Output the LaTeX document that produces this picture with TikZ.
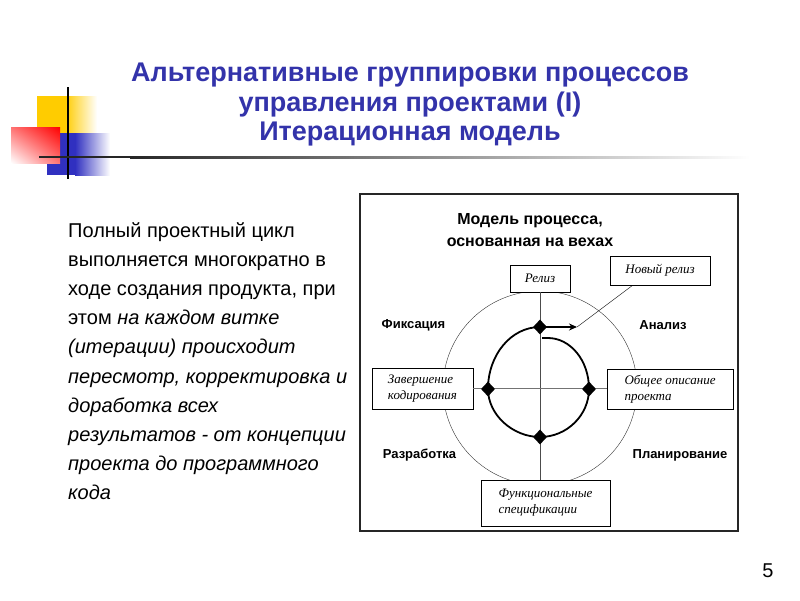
\documentclass[tikz,border=0pt]{standalone}
\usepackage{fontspec}
\setmainfont{Liberation Sans}
\newfontfamily\boxfont{Liberation Serif}
\usetikzlibrary{shapes,shapes.geometric,shadings,calc,arrows.meta}
\definecolor{ttlblue}{RGB}{51,51,170}
\definecolor{pxyellow}{RGB}{255,204,0}
\definecolor{pxred}{RGB}{255,0,0}
\definecolor{pxblue}{RGB}{48,48,192}
\tikzset{
  ttl_txt/.style = {align=center, text=ttlblue, inner sep=0pt, font=\bfseries\fontsize{27}{29.5}\selectfont},
  body_txt/.style = {align=left, anchor=north west, inner sep=0pt, font=\fontsize{20}{29.2}\selectfont},
  ms_box/.style = {draw=black, fill=white, align=left, inner sep=2pt, font=\boxfont\itshape\fontsize{13}{16}\selectfont},
  ms_pt/.style = {diamond, fill=black, inner sep=0pt, minimum width=14pt, minimum height=15pt},
  phase_lbl/.style = {font=\bfseries\fontsize{13}{15}\selectfont, inner sep=0pt},
  axis_h/.style = {draw=black!55, line width=1.6pt},
  axis_v/.style = {draw=black!70, line width=0.8pt},
  spiral/.style = {line width=1.8pt}
}

\begin{document}
\begin{tikzpicture}[x=1pt, y=-1pt]
	\useasboundingbox (0,0) rectangle (800,600);
	% template squares
	\fill[pxyellow] (37,96) rectangle (65,133);
	\shade[left color=pxyellow, right color=white] (65,96) rectangle (97,133);
	\fill[pxblue] (47,133) rectangle (75,175);
	\shade[left color=pxblue, right color=white] (75,133) rectangle (110,175);
	\shade[upper left=pxred!55!white, upper right=pxred, lower left=white, lower right=pxred!55!white] (11,127) rectangle (60,163);
	\draw[line width=2pt] (68,87) -- (68,179);
	\fill[black!85] (39,156) rectangle (130,158);
	\shade[left color=black!85, right color=white] (130,156) rectangle (750,158);
	% titles
	\node[ttl_txt] (ttl) at (410,105) {Альтернативные группировки процессов\\управления проектами (I)\\Итерационная модель};
	\node[body_txt] (body) at (68,222) {Полный проектный цикл\\
		выполняется многократно в\\
		ходе создания продукта, при\\
		этом \textit{на каждом витке}\\
		\textit{(итерации) происходит}\\
		\textit{пересмотр, корректировка и}\\
		\textit{доработка всех}\\
		\textit{результатов - от концепции}\\
		\textit{проекта до программного}\\
		\textit{кода}};
	\node[font=\fontsize{20}{22}\selectfont] (pnum) at (768,571) {5};
	% diagram
	\draw[line width=1.6pt, black!85] (360,194) rectangle (738,531);
	\node[align=center, font=\bfseries\fontsize{16}{22}\selectfont] (dgm_ttl) at (530,230) {Модель процесса,\\основанная на вехах};
	\node[circle, draw=black!80, thin, minimum size=194pt, inner sep=0pt] (cycle) at (540,388) {};
	\node[ms_box, minimum width=60pt, minimum height=27pt] (rel) at (540,278.5) {Релиз};
	\node[ms_box, minimum width=100pt, minimum height=29pt] (nrel) at (660,270.5) {Новый релиз};
	\node[ms_box, minimum width=101pt, minimum height=41pt] (zav) at (422.5,388.5) {Завершение\\кодирования};
	\node[ms_box, minimum width=126pt, minimum height=40pt] (obsh) at (670,389.5) {Общее описание\\проекта};
	\node[ms_box, minimum width=129pt, minimum height=46pt] (func) at (545.5,503) {Функциональные\\спецификации};
	\node[phase_lbl] (fix) at (413.5,325) {Фиксация};
	\node[phase_lbl] (anl) at (663,325) {Анализ};
	\node[phase_lbl] (razr) at (419.5,455) {Разработка};
	\node[phase_lbl] (plan) at (680,455) {Планирование};
	\draw[axis_v] (rel.south) -- (rel.south |- func.north);
	\draw[axis_h] (zav.east) -- (zav.east -| obsh.west);
	\node[ms_pt] (ms_t) at (540,327) {};
	\node[ms_pt] (ms_l) at (488,389) {};
	\node[ms_pt] (ms_r) at (589,389) {};
	\node[ms_pt] (ms_b) at (540,437) {};
	\coordinate (sp_in) at (542,338);
	\coordinate (arr_tip) at (577,327);
	\coordinate (nrel_ft) at ($(nrel.south west)+(23,0)$);
	\draw[spiral] (sp_in) -- (548,338) .. controls (570,338) and (589,360) .. (ms_r.center)
		.. controls (589,415) and (567,437) .. (ms_b.center)
		.. controls (513,437) and (488,415) .. (ms_l.center)
		.. controls (488,355) and (511,327) .. (ms_t.center);
	\draw[spiral, -{Stealth[length=8pt, width=7pt]}] (ms_t.center) -- (arr_tip);
	\draw[thin] (nrel_ft) -- (arr_tip);
\end{tikzpicture}
\end{document}
